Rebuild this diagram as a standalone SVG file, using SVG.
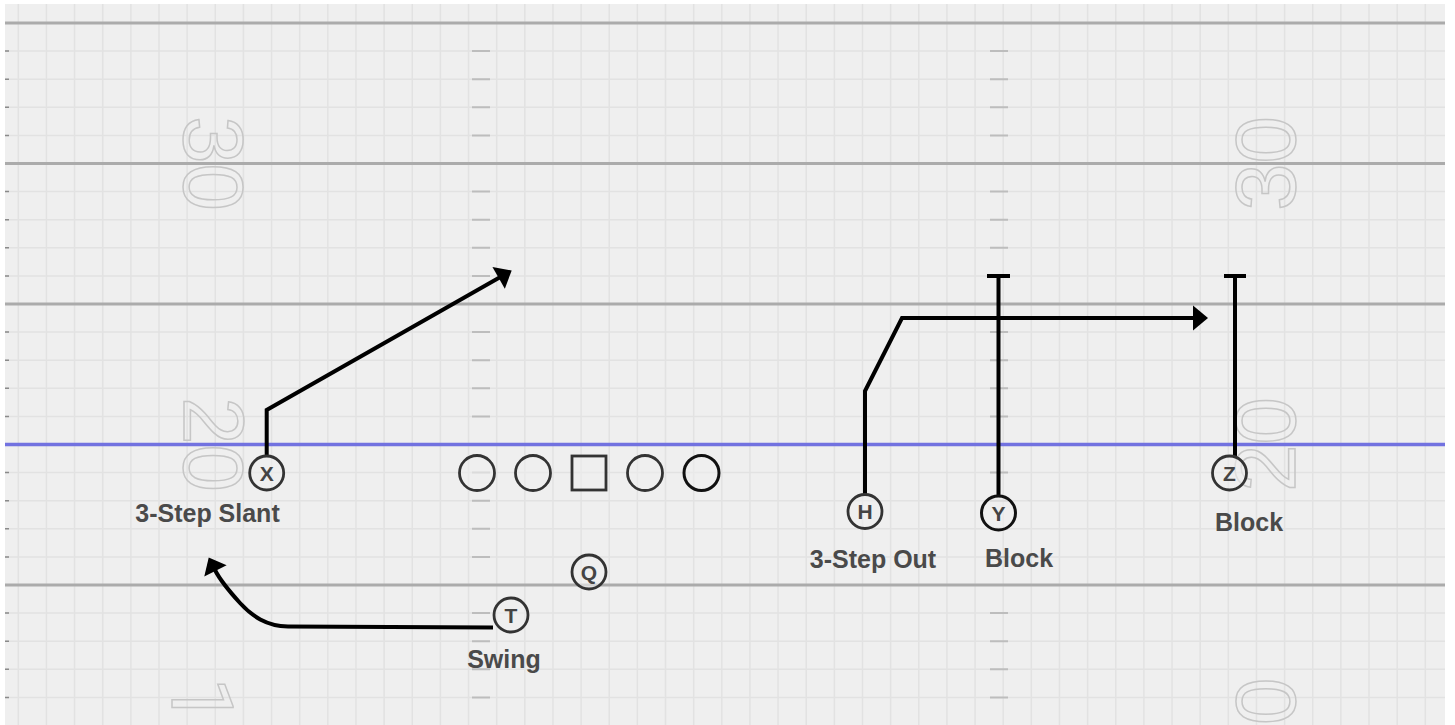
<svg xmlns="http://www.w3.org/2000/svg" width="1455" height="725" viewBox="0 0 1455 725">
<style>
.grid{stroke:#e2e2e2;stroke-width:1.5;fill:none}
.hash{stroke:#bdbdbd;stroke-width:2;fill:none}
.tick{stroke:#8a8a8a;stroke-width:1.5;fill:none}
.yard{stroke:#ababab;stroke-width:3;fill:none}
.num{font-family:"Liberation Sans",Arial,sans-serif;font-size:85px;fill:none;stroke:#c6c6c6;stroke-width:1.5;text-anchor:middle}
.nb{font-family:Roboto,"Liberation Sans",sans-serif}
.route{stroke:#000;stroke-width:4;fill:none;stroke-linejoin:miter}
.pl{fill:#efefef;fill-opacity:0.6;stroke:#333;stroke-width:2.8}
.dk{stroke:#111;stroke-width:3}
.pt{font-family:"Liberation Sans",Arial,sans-serif;font-weight:bold;font-size:21px;fill:#444;text-anchor:middle}
.lbl{font-family:"Liberation Sans",Arial,sans-serif;font-weight:bold;font-size:25px;fill:#4a4a4a;text-anchor:middle}
</style>
<defs>
<marker id="ah" markerUnits="userSpaceOnUse" viewBox="-2 -14 18 28" markerWidth="18" markerHeight="28" refX="0" refY="0" orient="auto">
<path d="M-1,-12.5 L14,0 L-1,12.5 Z" fill="#000"/>
</marker>
</defs>
<rect width="1455" height="725" fill="#ffffff"/>
<g id="field">
<rect x="5" y="4" width="1440" height="721" fill="#efefef"/>
<path class="grid" d="M18.3 4V725M46.44 4V725M74.58 4V725M102.72 4V725M130.86 4V725M159 4V725M187.14 4V725M215.28 4V725M243.42 4V725M271.56 4V725M299.7 4V725M327.84 4V725M355.98 4V725M384.12 4V725M412.26 4V725M440.4 4V725M468.54 4V725M496.68 4V725M524.82 4V725M552.96 4V725M581.1 4V725M609.24 4V725M637.38 4V725M665.52 4V725M693.66 4V725M721.8 4V725M749.94 4V725M778.08 4V725M806.22 4V725M834.36 4V725M862.5 4V725M890.64 4V725M918.78 4V725M946.92 4V725M975.06 4V725M1003.2 4V725M1031.34 4V725M1059.48 4V725M1087.62 4V725M1115.76 4V725M1143.9 4V725M1172.04 4V725M1200.18 4V725M1228.32 4V725M1256.46 4V725M1284.6 4V725M1312.74 4V725M1340.88 4V725M1369.02 4V725M1397.16 4V725M1425.3 4V725
M5 51.1H1445M5 79.2H1445M5 107.3H1445M5 135.4H1445M5 191.6H1445M5 219.7H1445M5 247.8H1445M5 275.9H1445M5 332.1H1445M5 360.2H1445M5 388.3H1445M5 416.4H1445M5 472.6H1445M5 500.7H1445M5 528.8H1445M5 556.9H1445M5 613.1H1445M5 641.2H1445M5 669.3H1445M5 697.4H1445"/>
<path class="hash" d="M472 51.1H490M472 79.2H490M472 107.3H490M472 135.4H490M472 191.6H490M472 219.7H490M472 247.8H490M472 275.9H490M472 332.1H490M472 360.2H490M472 388.3H490M472 416.4H490M472 472.6H490M472 500.7H490M472 528.8H490M472 556.9H490M472 613.1H490M472 641.2H490M472 669.3H490M472 697.4H490
M990 51.1H1008M990 79.2H1008M990 107.3H1008M990 135.4H1008M990 191.6H1008M990 219.7H1008M990 247.8H1008M990 275.9H1008M990 332.1H1008M990 360.2H1008M990 388.3H1008M990 416.4H1008M990 472.6H1008M990 500.7H1008M990 528.8H1008M990 556.9H1008M990 613.1H1008M990 641.2H1008M990 669.3H1008M990 697.4H1008"/>
<path class="tick" d="M5 51.1H9M5 79.2H9M5 107.3H9M5 135.4H9M5 191.6H9M5 219.7H9M5 247.8H9M5 275.9H9M5 332.1H9M5 360.2H9M5 388.3H9M5 416.4H9M5 472.6H9M5 500.7H9M5 528.8H9M5 556.9H9M5 613.1H9M5 641.2H9M5 669.3H9M5 697.4H9"/>
<text class="num" transform="translate(215,163.5) rotate(90)" x="0" y="31">30</text>
<text class="num" transform="translate(215,444.5) rotate(90)" x="0" y="31">20</text>
<text class="num nb" transform="translate(203,725) rotate(90)" x="0" y="31">10</text>
<text class="num" transform="translate(1264,163.5) rotate(-90)" x="0" y="31">30</text>
<text class="num" transform="translate(1264,444.5) rotate(-90)" x="0" y="31">20</text>
<text class="num" transform="translate(1264,725) rotate(-90)" x="0" y="31">10</text>
<path class="yard" d="M5 23H1445M5 163.5H1445M5 304H1445M5 585H1445"/>
<path d="M5 444.5H1445" stroke="#7272e0" stroke-width="3.5" fill="none"/>
</g>
<g id="connectors">
<path class="route" d="M266.7,456 L266.7,410 L499.5,277.4" marker-end="url(#ah)"/>
<path class="route" d="M865,494.5 L865,391 L902,318 L1194,318" marker-end="url(#ah)"/>
<path class="route" d="M493,627.5 L288,626.5 C266,626 252,616 240,603 C230,592 221,582 215,570" marker-end="url(#ah)"/>
<path class="route" d="M998.5,496 V276 M987,276 H1010"/>
<path class="route" d="M1235,458 V276 M1224,276 H1246"/>
</g>
<g id="lineman-1"><circle class="pl" cx="477" cy="473" r="17.5"/></g>
<g id="lineman-2"><circle class="pl" cx="533" cy="473" r="17.5"/></g>
<g id="center"><rect class="pl" x="572" y="456" width="34" height="34"/></g>
<g id="lineman-3"><circle class="pl" cx="645" cy="473" r="17.5"/></g>
<g id="lineman-4"><circle class="pl dk" cx="701.5" cy="473" r="17.5"/></g>
<g id="player-x"><circle class="pl" cx="266.7" cy="473" r="17"/><text class="pt" x="266.7" y="480.5">X</text></g>
<g id="player-q"><circle class="pl" cx="589" cy="572" r="17"/><text class="pt" x="589" y="579.5">Q</text></g>
<g id="player-t"><circle class="pl" cx="511" cy="615" r="17"/><text class="pt" x="511" y="622.5">T</text></g>
<g id="player-h"><circle class="pl" cx="865" cy="511.5" r="17"/><text class="pt" x="865" y="519">H</text></g>
<g id="player-y"><circle class="pl dk" cx="998.5" cy="513" r="17"/><text class="pt" x="998.5" y="520.5">Y</text></g>
<g id="player-z"><circle class="pl" cx="1229.5" cy="473" r="17"/><text class="pt" x="1229.5" y="480.5">Z</text></g>
<g id="labels">
<text class="lbl" x="207.5" y="522">3-Step Slant</text>
<text class="lbl" x="504" y="668">Swing</text>
<text class="lbl" x="873" y="568">3-Step Out</text>
<text class="lbl" x="1019" y="567">Block</text>
<text class="lbl" x="1249" y="530.5">Block</text>
</g>
</svg>
